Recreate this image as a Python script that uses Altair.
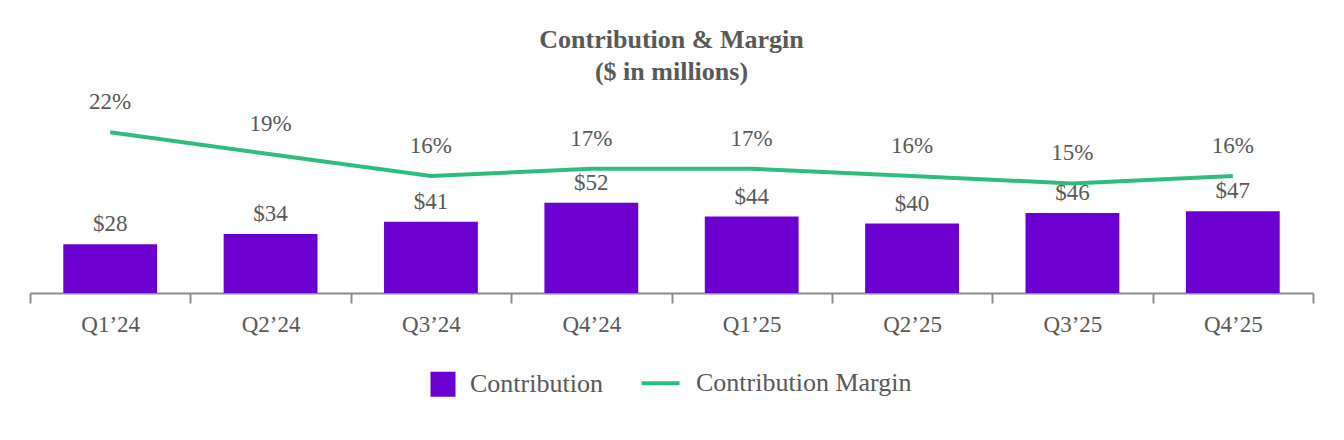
import altair as alt
import pandas as pd

# Quarterly contribution ($M) and contribution margin
quarters = ["Q1’24", "Q2’24", "Q3’24", "Q4’24", "Q1’25", "Q2’25", "Q3’25", "Q4’25"]
contribution = [28, 34, 41, 52, 44, 40, 46, 47]
margin = [0.22, 0.19, 0.16, 0.17, 0.17, 0.16, 0.15, 0.16]
series = ["Contribution", "Contribution Margin"]

PURPLE = "#6B00D1"
GREEN = "#2FBD7F"
GREY = "#595959"
AXIS_GREY = "#8C8C8C"
FONT = "Liberation Serif"

df = pd.DataFrame({"quarter": quarters, "contribution": contribution, "margin": margin})
legend_df = pd.DataFrame({"series": series})

x = alt.X(
    "quarter:N",
    sort=quarters,
    title=None,
    scale=alt.Scale(paddingInner=0, paddingOuter=0),
    axis=alt.Axis(
        labelAngle=0, tickBand="extent", tickSize=10, tickWidth=2,
        tickColor=AXIS_GREY, domainColor=AXIS_GREY, domainWidth=2,
        labelFont=FONT, labelFontSize=23, labelColor=GREY, labelPadding=10,
    ),
)
y_bar = alt.Y("contribution:Q", scale=alt.Scale(domain=[0, 114]), axis=None)
y_line = alt.Y("margin:Q", scale=alt.Scale(domain=[0, 0.271]), axis=None)

base = alt.Chart(df)

bars = base.mark_bar(color=PURPLE, width=alt.RelativeBandSize(0.585)).encode(x=x, y=y_bar)
bar_labels = base.mark_text(dy=-20, font=FONT, fontSize=23, color=GREY).encode(
    x=x, y=y_bar, text=alt.Text("contribution:Q", format="$d")
)
bar_layer = alt.layer(bars, bar_labels)

line = base.mark_line(color=GREEN, strokeWidth=4).encode(x=x, y=y_line)
line_labels = base.mark_text(dy=-30, font=FONT, fontSize=23, color=GREY).encode(
    x=x, y=y_line, text=alt.Text("margin:Q", format=".0%")
)
line_layer = alt.layer(line, line_labels)

# Legend: filled square for the bars, a long horizontal stroke for the line
# (the extra move-to points give the stroke the same height as the square)
LINE_SYMBOL = "M-2.6,0L1,0M1,-1.19M1,1.19"
leg = alt.Legend(
    title=None, orient="none", legendX=400, legendY=275, direction="horizontal",
    labelFont=FONT, labelFontSize=26, labelColor=GREY, labelLimit=0,
    symbolStrokeWidth=4, symbolSize=441, symbolOpacity=1,
    columnPadding=30, labelOffset=14, padding=0,
)
legend_layer = alt.Chart(legend_df).mark_point(filled=False, opacity=1, strokeWidth=4).encode(
    shape=alt.Shape("series:N", scale=alt.Scale(domain=series, range=["square", LINE_SYMBOL]), legend=leg),
    fill=alt.Fill("series:N", scale=alt.Scale(domain=series, range=[PURPLE, "transparent"]), legend=leg),
    stroke=alt.Stroke("series:N", scale=alt.Scale(domain=series, range=[PURPLE, GREEN]), legend=leg),
).transform_filter("false")

chart = (
    alt.layer(bar_layer, line_layer, legend_layer)
    .resolve_scale(y="independent")
    .properties(
        width=1283,
        height=198,
        padding={"left": 30, "top": 95, "right": 31, "bottom": 147},
        autosize=alt.AutoSizeParams(type="none"),
        title=alt.TitleParams(
            ["Contribution & Margin", "($ in millions)"],
            font=FONT, fontSize=26, fontWeight="bold", color=GREY,
            lineHeight=32, anchor="middle", offset=6,
        ),
    )
    .configure_view(stroke=None)
    .configure_legend(labelFont=FONT, labelFontSize=26, labelColor=GREY)
)

chart.save("out.html", embed_options={"renderer": "svg", "actions": False})
